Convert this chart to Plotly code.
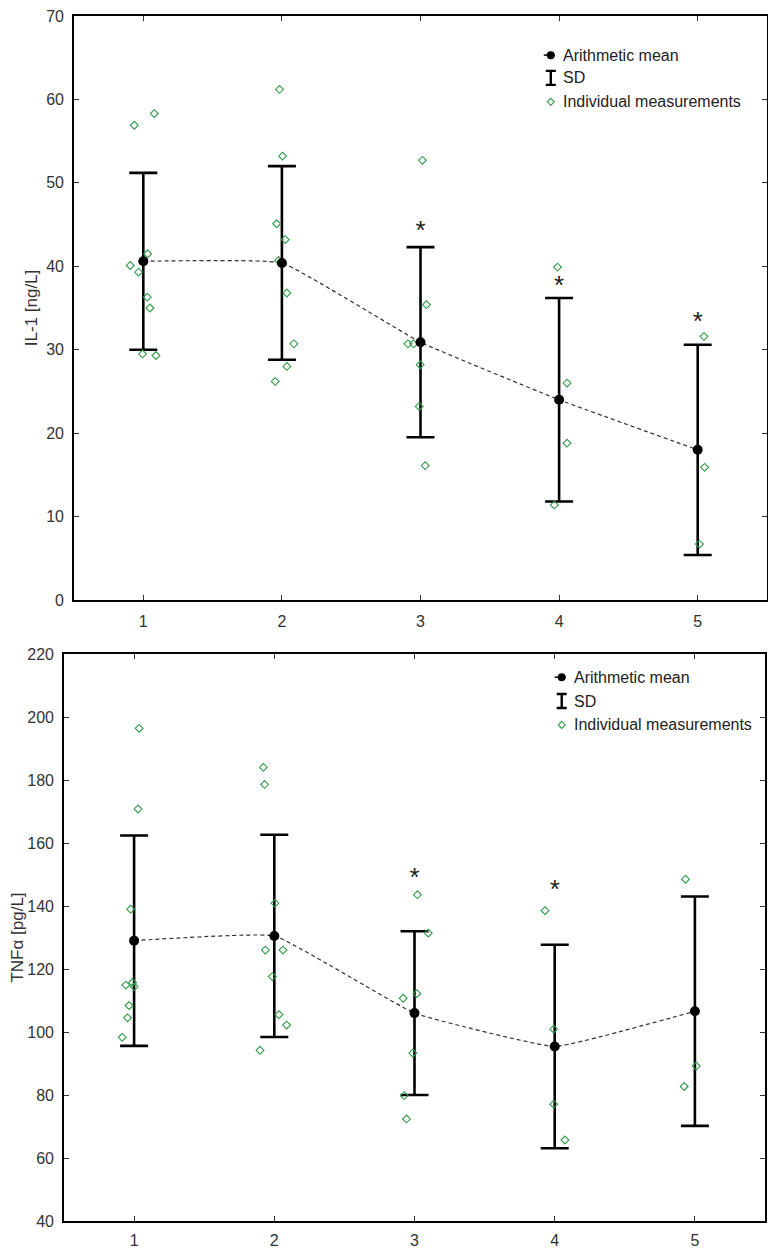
import plotly.graph_objects as go

# ---------------- data ----------------
groups = [1, 2, 3, 4, 5]
tick_labels = ["1", "2", "3", "4", "5"]

# IL-1 panel
il1_mean = [40.6, 40.4, 30.9, 24.0, 18.0]
il1_sd = [10.6, 11.6, 11.4, 12.2, 12.6]
il1_pt_group = [1]*9 + [2]*9 + [3]*7 + [4]*4 + [5]*3
il1_pt_value = [56.9, 58.3, 41.5, 40.1, 39.3, 36.3, 35.0, 29.5, 29.3,
                61.2, 53.2, 45.1, 43.2, 40.7, 36.8, 30.7, 28.0, 26.2,
                52.7, 35.4, 30.7, 30.7, 28.2, 23.2, 16.1,
                39.9, 26.0, 18.8, 11.4,
                31.6, 15.9, 6.7]
il1_pt_jitter = [-0.065, 0.079, 0.031, -0.094, -0.034, 0.029, 0.048, -0.005, 0.091,
                 -0.017, 0.005, -0.038, 0.024, -0.024, 0.036, 0.086, 0.036, -0.048,
                 0.014, 0.043, -0.091, -0.05, -0.002, -0.009, 0.034,
                 -0.012, 0.057, 0.057, -0.034,
                 0.045, 0.05, 0.012]
il1_star_group = [3, 4, 5]
il1_star_y = [44.0, 37.4, 33.2]

# TNF-alpha panel
tnf_mean = [129.0, 130.5, 106.0, 95.4, 106.6]
tnf_sd = [33.4, 32.1, 26.0, 32.3, 36.4]
tnf_pt_group = [1]*9 + [2]*9 + [3]*7 + [4]*4 + [5]*3
tnf_pt_value = [196.4, 170.8, 139.0, 114.9, 115.7, 114.4, 108.4, 104.5, 98.3,
                184.0, 178.6, 140.9, 126.0, 126.0, 117.6, 105.5, 102.2, 94.2,
                143.6, 131.4, 112.2, 110.7, 93.3, 79.8, 72.4,
                138.5, 100.9, 77.1, 65.7,
                148.5, 89.2, 82.7]
tnf_pt_jitter = [0.036, 0.028, -0.024, -0.059, -0.011, 0.0, -0.036, -0.047, -0.085,
                 -0.078, -0.069, 0.005, -0.064, 0.062, -0.014, 0.033, 0.088, -0.102,
                 0.021, 0.098, 0.017, -0.081, -0.012, -0.073, -0.057,
                 -0.069, -0.007, -0.007, 0.073,
                 -0.067, 0.009, -0.076]
tnf_star_group = [3, 4]
tnf_star_y = [148.4, 144.7]

legend_labels = ["Arithmetic mean", "SD", "Individual measurements"]

# ---------------- style ----------------
GREEN = "#2f9a4a"
FONT = "Liberation Sans, Arial, sans-serif"
TXT = "#333333"
W, H = 776, 1250
OFF = 8  # page body margin offset compensation (px)

fig = go.Figure()


def add_panel(xa, ya, means, sds, pg, pv, pj, sg, sy):
    fig.add_trace(go.Scatter(
        x=groups, y=means, mode="markers", xaxis=xa, yaxis=ya,
        marker=dict(size=1, color="rgba(0,0,0,0)"),
        error_y=dict(type="data", array=sds, visible=True, color="black",
                     thickness=2.6, width=14),
        showlegend=False, hoverinfo="skip"))
    fig.add_trace(go.Scatter(
        x=groups, y=means, mode="lines", xaxis=xa, yaxis=ya,
        line=dict(color="#333333", width=1.2, dash="4px,3px",
                  shape="spline", smoothing=0.3),
        showlegend=False, hoverinfo="skip"))
    fig.add_trace(go.Scatter(
        x=[g + j for g, j in zip(pg, pj)], y=pv, mode="markers",
        xaxis=xa, yaxis=ya,
        marker=dict(symbol="diamond-open", size=6, color=GREEN,
                    line=dict(width=1.1, color=GREEN)),
        showlegend=False))
    fig.add_trace(go.Scatter(
        x=groups, y=means, mode="markers", xaxis=xa, yaxis=ya,
        marker=dict(symbol="circle", size=10, color="black"),
        showlegend=False))
    fig.add_trace(go.Scatter(
        x=sg, y=sy, mode="text", text=["*"] * len(sg), xaxis=xa, yaxis=ya,
        textposition="middle center",
        textfont=dict(size=26, color="#222222", family=FONT),
        showlegend=False, hoverinfo="skip"))


add_panel("x", "y", il1_mean, il1_sd, il1_pt_group, il1_pt_value,
          il1_pt_jitter, il1_star_group, il1_star_y)
add_panel("x2", "y2", tnf_mean, tnf_sd, tnf_pt_group, tnf_pt_value,
          tnf_pt_jitter, tnf_star_group, tnf_star_y)

axis_common = dict(showline=True, linecolor="black", linewidth=1.6,
                   mirror="ticks", ticks="inside", ticklen=5, tickwidth=1,
                   tickcolor="#333333", showgrid=False, zeroline=False,
                   automargin=False, ticklabeloverflow="allow",
                   tickfont=dict(family=FONT, size=16, color=TXT))


def xd(a, b):
    return [(a - OFF) / W, (b - OFF) / W]


def yd(top, bottom):
    return [1 - (bottom - OFF) / H, 1 - (top - OFF) / H]


fig.update_layout(
    width=W, height=H,
    margin=dict(l=0, r=0, t=0, b=0, autoexpand=False),
    paper_bgcolor="white", plot_bgcolor="white",
    font=dict(family=FONT, color=TXT),
    xaxis=dict(domain=xd(74, 767), range=[0.5, 5.5],
               tickvals=groups, ticktext=tick_labels, anchor="y",
               ticklabelstandoff=6, **axis_common),
    yaxis=dict(domain=yd(16, 600), range=[0, 70],
               dtick=10, anchor="x", ticklabelstandoff=5,
               title=dict(text="IL-1 [ng/L]", font=dict(size=17, color=TXT),
                          standoff=4),
               **axis_common),
    xaxis2=dict(domain=xd(64, 765), range=[0.5, 5.5],
                tickvals=groups, ticktext=tick_labels, anchor="y2",
                ticklabelstandoff=4, **axis_common),
    yaxis2=dict(domain=yd(654, 1221), range=[40, 220],
                dtick=20, anchor="x2", ticklabelstandoff=5,
                title=dict(text="TNFα [pg/L]", font=dict(size=17, color=TXT),
                           standoff=8),
                **axis_common),
)


def add_legend(xr, yr, mx, tx, ys):
    fig.add_shape(type="line", xref=xr, yref=yr, xsizemode="pixel",
                  ysizemode="pixel", xanchor=mx, yanchor=ys[0],
                  x0=-7, x1=4, y0=0, y1=0, line=dict(color="black", width=1.5))
    fig.add_shape(type="circle", xref=xr, yref=yr, xsizemode="pixel",
                  ysizemode="pixel", xanchor=mx, yanchor=ys[0],
                  x0=-4, x1=4, y0=-4, y1=4, fillcolor="black",
                  line=dict(color="black", width=0))
    fig.add_shape(type="path", xref=xr, yref=yr, xsizemode="pixel",
                  ysizemode="pixel", xanchor=mx, yanchor=ys[1],
                  path="M-5,7 L5,7 M0,7 L0,-7 M-5,-7 L5,-7",
                  line=dict(color="black", width=2.4))
    fig.add_shape(type="path", xref=xr, yref=yr, xsizemode="pixel",
                  ysizemode="pixel", xanchor=mx, yanchor=ys[2],
                  path="M0,3.5 L3.5,0 L0,-3.5 L-3.5,0 Z",
                  line=dict(color=GREEN, width=1.1))
    for lab, yy in zip(legend_labels, ys):
        fig.add_annotation(xref=xr, yref=yr, x=tx, y=yy, text=lab,
                           showarrow=False, xanchor="left", yanchor="middle",
                           font=dict(family=FONT, size=16, color="#222222"))


add_legend("x domain", "y domain", 0.688, 0.703, [0.933, 0.894, 0.853])
add_legend("x2 domain", "y2 domain", 0.710, 0.725, [0.959, 0.917, 0.875])

fig.write_html("out.html")
